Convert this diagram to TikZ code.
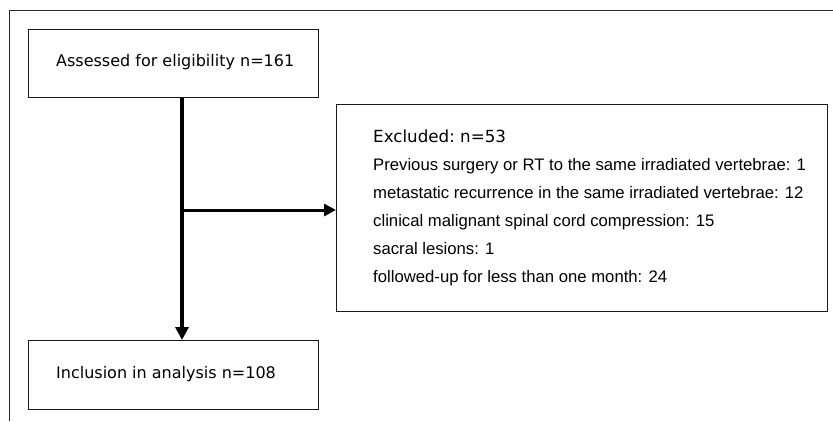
\documentclass[tikz,border=0pt]{standalone}
\usepackage{fontspec}
\setmainfont{Liberation Sans}
\newfontfamily\verd{DejaVu Sans}
\usetikzlibrary{arrows.meta}
\begin{document}
\begin{tikzpicture}[x=1pt,y=-1pt,
  boxst/.style={draw=black!90,line width=1.3pt,inner sep=0pt,anchor=north west},
  txt/.style={anchor=west,inner sep=0pt},
  flow/.style={line width=3.6pt,-{Triangle[length=13pt,width=13pt]}}]
\useasboundingbox (0,0) rectangle (833,421);
\draw[line width=1pt,black!85] (9,421) -- (9,10) -- (834,10);
\node[boxst,minimum width=290pt,minimum height=68pt] (a) at (28,29) {};
\node[txt,font=\verd\fontsize{16}{19}\selectfont] (at) at (56,62) {Assessed for eligibility n=161};
\node[boxst,minimum width=290pt,minimum height=69pt] (c) at (28,340) {};
\node[txt,font=\verd\fontsize{16}{19}\selectfont] (ct) at (56,374) {Inclusion in analysis n=108};
\node[boxst,minimum width=491pt,minimum height=207pt] (e) at (336,104) {};
\node[txt,align=left,font=\fontsize{16.7}{28}\selectfont] (et) at (373,208) {{\verd Excluded:\ n=53}\\
Previous surgery or RT to the same irradiated vertebrae: 1\\
metastatic recurrence in the same irradiated vertebrae: 12\\
clinical malignant spinal cord compression: 15\\
sacral lesions: 1\\
followed-up for less than one month: 24};
\coordinate (j) at (182,210);
\draw[flow] (a.south -| j) -- (c.north -| j);
\draw[line width=3pt,-{Triangle[length=12pt,width=12pt]}] ([xshift=-1.8pt]j) -- (j -| e.west);
\end{tikzpicture}
\end{document}
